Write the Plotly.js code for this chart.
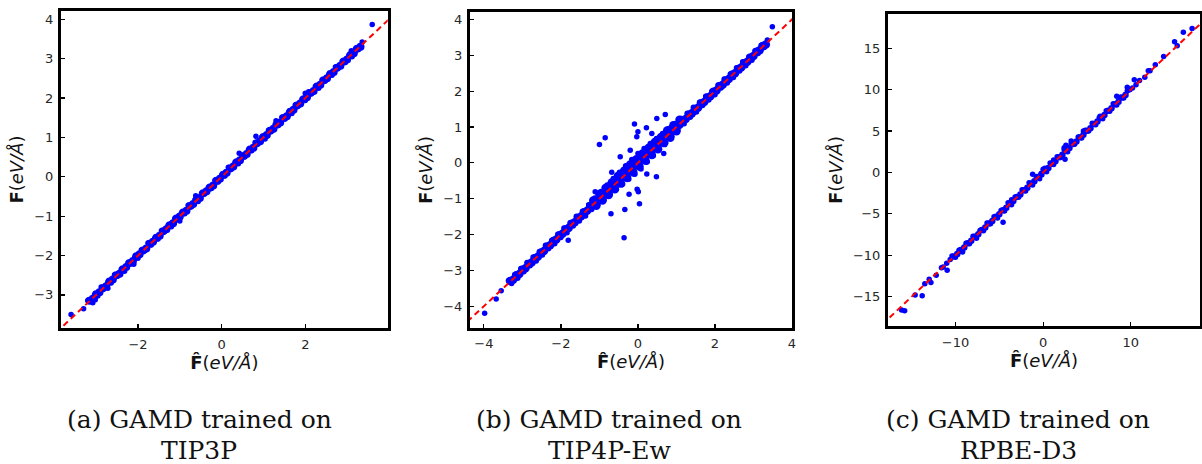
<!DOCTYPE html>
<html>
<head>
<meta charset="utf-8">
<script src="https://cdn.plot.ly/plotly-3.0.1.min.js"></script>
<style>html,body{margin:0;padding:0;background:#fff;overflow:hidden}#chart{width:1202px;height:464px}</style>
</head>
<body>
<div id="chart"></div>
<script>
// ---- Panel (a) TIP3P: predicted vs true force ----
const x1 = [-3.20,-3.12,-3.04,-2.96,-2.88,-2.80,-2.72,-2.64,-2.56,-2.48,-2.40,-2.32,-2.24,-2.16,-2.08,-2.00,-1.92,-1.84,-1.76,-1.68,-1.60,-1.52,-1.44,-1.36,-1.28,-1.20,-1.12,-1.04,-0.96,-0.88,-0.80,-0.72,-0.64,-0.56,-0.48,-0.40,-0.32,-0.24,-0.16,-0.08,0.00,0.08,0.16,0.24,0.32,0.40,0.48,0.56,0.64,0.72,0.80,0.88,0.96,1.04,1.12,1.20,1.28,1.36,1.44,1.52,1.60,1.68,1.76,1.84,1.92,2.00,2.08,2.16,2.24,2.32,2.40,2.48,2.56,2.64,2.72,2.80,2.88,2.96,3.04,3.12,3.20,3.28,3.36,
  3.60,-3.60,-3.30,-3.08,-3.02,-2.72,-2.10,0.42,0.82,-0.62,2.00,3.10,1.30,-1.00,-0.30,0.10,1.70,-1.60,2.60,-2.50];
const y1 = [-3.14,-3.17,-3.00,-3.03,-2.80,-2.83,-2.67,-2.70,-2.49,-2.52,-2.35,-2.40,-2.18,-2.21,-2.05,-2.07,-1.86,-1.88,-1.68,-1.73,-1.56,-1.58,-1.37,-1.39,-1.23,-1.27,-1.06,-1.09,-0.92,-0.94,-0.72,-0.76,-0.59,-0.63,-0.42,-0.43,-0.27,-0.30,-0.09,-0.13,0.04,0.02,0.24,0.20,0.37,0.33,0.54,0.51,0.68,0.66,0.87,0.85,1.01,0.96,1.18,1.16,1.33,1.30,1.51,1.47,1.64,1.61,1.82,1.81,1.97,1.94,2.16,2.12,2.29,2.25,2.46,2.43,2.60,2.58,2.79,2.77,2.93,2.90,3.08,3.05,3.25,3.24,3.42,
  3.87,-3.50,-3.35,-3.20,-3.12,-2.83,-2.22,0.60,1.03,-0.48,2.12,3.20,1.42,-1.12,-0.28,0.12,1.68,-1.62,2.63,-2.52];
const x1core = [-3.16,-3.08,-3.00,-2.92,-2.84,-2.76,-2.68,-2.60,-2.52,-2.44,-2.36,-2.28,-2.20,-2.12,-2.04,-1.96,-1.88,-1.80,-1.72,-1.64,-1.56,-1.48,-1.40,-1.32,-1.24,-1.16,-1.08,-1.00,-0.92,-0.84,-0.76,-0.68,-0.60,-0.52,-0.44,-0.36,-0.28,-0.20,-0.12,-0.04,0.04,0.12,0.20,0.28,0.36,0.44,0.52,0.60,0.68,0.76,0.84,0.92,1.00,1.08,1.16,1.24,1.32,1.40,1.48,1.56,1.64,1.72,1.80,1.88,1.96,2.04,2.12,2.20,2.28,2.36,2.44,2.52,2.60,2.68,2.76,2.84,2.92,3.00,3.08,3.16,3.24,3.32];
const y1core = [-3.15,-3.10,-2.98,-2.93,-2.83,-2.78,-2.66,-2.61,-2.50,-2.46,-2.35,-2.29,-2.19,-2.14,-2.02,-1.97,-1.87,-1.82,-1.70,-1.65,-1.55,-1.50,-1.38,-1.33,-1.23,-1.18,-1.06,-1.01,-0.91,-0.86,-0.74,-0.69,-0.59,-0.54,-0.42,-0.37,-0.27,-0.22,-0.10,-0.05,0.05,0.10,0.21,0.26,0.37,0.42,0.53,0.58,0.69,0.74,0.85,0.90,1.01,1.06,1.17,1.22,1.33,1.38,1.49,1.54,1.65,1.70,1.81,1.86,1.97,2.02,2.13,2.18,2.29,2.34,2.45,2.50,2.61,2.66,2.77,2.82,2.93,2.98,3.09,3.14,3.25,3.30];
const diag1 = [-5, 5];

// ---- Panel (b) TIP4P-Ew ----
const x2 = [-3.36,-3.28,-3.20,-3.12,-3.04,-2.96,-2.88,-2.80,-2.72,-2.64,-2.56,-2.48,-2.40,-2.32,-2.24,-2.16,-2.08,-2.00,-1.92,-1.84,-1.76,-1.68,-1.60,-1.52,-1.44,-1.36,-1.28,-1.20,-1.12,-1.04,-0.96,-0.88,-0.80,-0.72,-0.64,-0.56,-0.48,-0.40,-0.32,-0.24,-0.16,-0.08,0.00,0.08,0.16,0.24,0.32,0.40,0.48,0.56,0.64,0.72,0.80,0.88,0.96,1.04,1.12,1.20,1.28,1.36,1.44,1.52,1.60,1.68,1.76,1.84,1.92,2.00,2.08,2.16,2.24,2.32,2.40,2.48,2.56,2.64,2.72,2.80,2.88,2.96,3.04,3.12,3.20,3.28,3.36,
  -0.60,-0.44,-0.20,0.04,0.20,0.36,0.52,0.68,0.84,-0.76,-0.92,-0.36,-0.12,0.12,0.28,0.44,0.60,1.00,-1.00,-0.52,0.76,-0.28,
  -1.00,-0.85,-0.09,0.00,0.22,0.49,0.71,-0.03,-0.36,-0.70,-0.34,0.04,-0.23,-0.02,0.01,0.48,0.23,-0.68,-1.11,-1.81,-3.98,-3.68,3.49,0.67,0.36,-0.46,-0.20,-0.63,0.41,-3.55];
const y2 = [-3.28,-3.37,-3.13,-3.22,-2.95,-3.04,-2.78,-2.87,-2.63,-2.74,-2.48,-2.57,-2.30,-2.40,-2.17,-2.26,-1.99,-2.08,-1.82,-1.95,-1.67,-1.76,-1.49,-1.62,-1.35,-1.48,-1.17,-1.30,-0.98,-1.17,-0.80,-1.03,-0.62,-0.88,-0.44,-0.74,-0.26,-0.60,-0.08,-0.46,0.09,-0.32,0.26,-0.17,0.40,0.02,0.54,0.20,0.68,0.38,0.82,0.56,0.96,0.74,1.10,0.92,1.24,1.09,1.38,1.27,1.55,1.42,1.69,1.60,1.86,1.75,2.00,1.90,2.17,2.09,2.34,2.23,2.48,2.38,2.65,2.56,2.82,2.71,2.96,2.86,3.13,3.05,3.28,3.22,3.43,
  -0.60,-0.47,-0.18,0.06,0.22,0.33,0.55,0.66,0.86,-0.73,-0.95,-0.30,-0.05,0.10,0.31,0.42,0.63,1.02,-1.00,-0.50,0.78,-0.26,
  0.51,0.70,1.08,0.87,0.98,1.24,1.35,0.73,-2.09,-1.42,-1.30,-1.14,-0.88,-0.74,-0.81,-0.39,-0.31,-0.26,-0.81,-2.16,-4.20,-3.80,3.80,0.26,0.82,0.17,0.35,-0.53,0.45,-3.57];
const x2core = [-3.32,-3.24,-3.16,-3.08,-3.00,-2.92,-2.84,-2.76,-2.68,-2.60,-2.52,-2.44,-2.36,-2.28,-2.20,-2.12,-2.04,-1.96,-1.88,-1.80,-1.72,-1.64,-1.56,-1.48,-1.40,-1.32,-1.24,-1.16,-1.08,-1.00,-0.92,-0.84,-0.76,-0.68,-0.60,-0.52,-0.44,-0.36,-0.28,-0.20,-0.12,-0.04,0.04,0.12,0.20,0.28,0.36,0.44,0.52,0.60,0.68,0.76,0.84,0.92,1.00,1.08,1.16,1.24,1.32,1.40,1.48,1.56,1.64,1.72,1.80,1.88,1.96,2.04,2.12,2.20,2.28,2.36,2.44,2.52,2.60,2.68,2.76,2.84,2.92,3.00,3.08,3.16,3.24,3.32,
  -1.16,-1.00,-0.84,-0.68,-0.52,-0.36,-0.20,-0.04,0.12,0.28,0.44,0.60,0.76,0.92,1.08,-1.08,-0.92,-0.76,-0.60,-0.44,-0.28,-0.12,0.04,0.20,0.36,0.52,0.68,0.84,1.00];
const y2core = [-3.30,-3.26,-3.14,-3.10,-2.98,-2.94,-2.82,-2.78,-2.66,-2.62,-2.50,-2.46,-2.34,-2.30,-2.18,-2.14,-2.02,-1.98,-1.86,-1.82,-1.70,-1.66,-1.54,-1.50,-1.38,-1.34,-1.22,-1.18,-1.06,-1.02,-0.90,-0.86,-0.74,-0.70,-0.58,-0.54,-0.42,-0.38,-0.26,-0.22,-0.10,-0.06,0.06,0.10,0.22,0.26,0.38,0.42,0.54,0.58,0.70,0.74,0.86,0.90,1.02,1.06,1.18,1.22,1.34,1.38,1.50,1.54,1.66,1.70,1.82,1.86,1.98,2.02,2.14,2.18,2.30,2.34,2.46,2.50,2.62,2.66,2.78,2.82,2.94,2.98,3.10,3.14,3.26,3.30,
  -1.05,-0.87,-0.70,-0.55,-0.37,-0.22,-0.05,0.10,0.26,0.42,0.58,0.72,0.90,1.05,1.20,-1.20,-1.05,-0.90,-0.74,-0.58,-0.42,-0.27,-0.10,0.06,0.22,0.38,0.55,0.70,0.88];
const diag2 = [-5, 5];

// ---- Panel (c) RPBE-D3 ----
const x3 = [-10.4,-10.0,-9.6,-9.2,-8.8,-8.4,-8.0,-7.6,-7.2,-6.8,-6.4,-6.0,-5.6,-5.2,-4.8,-4.4,-4.0,-3.6,-3.2,-2.8,-2.4,-2.0,-1.6,-1.2,-0.8,-0.4,0.0,0.4,0.8,1.2,1.6,2.0,2.4,2.8,3.2,3.6,4.0,4.4,4.8,5.2,5.6,6.0,6.4,6.8,7.2,7.6,8.0,8.4,8.8,9.2,9.6,
  -16.15,-15.8,-14.6,-13.8,-13.5,-12.8,-12.2,-11.4,-10.95,-11.0,-11.6,-13.0,-4.57,-1.2,2.5,2.6,2.4,4.6,16.0,15.0,15.3,17.0,13.75,12.8,12.0,12.2,11.6,10.4,10.6,9.6,9.9,8.4,10.2,11.0,-9.2,-3.6,-9.8,-10.6,-0.2,0.2,6.5,3.2,1.2];
const y3 = [-10.1,-10.25,-9.4,-9.5,-8.55,-8.6,-7.7,-7.95,-7.0,-7.05,-6.1,-6.2,-5.35,-5.5,-4.6,-4.65,-3.65,-3.9,-2.95,-3.0,-2.1,-2.25,-1.25,-1.5,-0.5,-0.75,0.4,0.1,1.15,0.95,1.9,1.8,2.75,2.5,3.45,3.4,4.3,4.15,5.1,5.0,5.95,5.75,6.6,6.5,7.45,7.4,8.3,8.15,9.1,9.0,9.85,
  -16.6,-16.7,-14.8,-14.9,-13.45,-13.3,-12.4,-11.4,-11.8,-10.95,-11.5,-12.9,-6.0,-0.2,1.6,3.3,3.0,5.0,16.95,15.8,15.3,17.4,14.0,13.0,12.3,12.3,11.5,11.2,10.6,10.3,10.0,9.2,10.2,11.1,-9.6,-3.3,-9.9,-10.5,-0.1,0.5,6.8,3.8,1.5];
const x3core = [-10.2,-9.8,-9.4,-9.0,-8.6,-8.2,-7.8,-7.4,-7.0,-6.6,-6.2,-5.8,-5.4,-5.0,-4.6,-4.2,-3.8,-3.4,-3.0,-2.6,-2.2,-1.8,-1.4,-1.0,-0.6,-0.2,0.2,0.6,1.0,1.4,1.8,2.2,2.6,3.0,3.4,3.8,4.2,4.6,5.0,5.4,5.8,6.2,6.6,7.0,7.4,7.8,8.2,8.6,9.0,9.4];
const y3core = [-10.15,-9.85,-9.35,-9.05,-8.55,-8.25,-7.75,-7.45,-6.95,-6.65,-6.15,-5.85,-5.35,-5.05,-4.55,-4.25,-3.75,-3.45,-2.95,-2.65,-2.15,-1.85,-1.35,-1.05,-0.55,-0.25,0.25,0.55,1.05,1.35,1.85,2.15,2.65,2.95,3.45,3.75,4.25,4.55,5.05,5.35,5.85,6.15,6.65,6.95,7.45,7.75,8.25,8.55,9.05,9.35];
const diag3 = [-20, 20];

// ---- Text ----
const captionLine1 = ["(a) GAMD trained on", "(b) GAMD trained on", "(c) GAMD trained on"];
const captionLine2 = ["TIP3P", "TIP4P-Ew", "RPBE-D3"];
const yTitle = "<b>F</b>(<i>eV/Å</i>)";
const xTitle = "<b>F̂</b>(<i>eV/Å</i>)";

const tickFont = {family: "DejaVu Sans", size: 13, color: "#262626"};
const titleFont = {family: "DejaVu Sans", size: 18, color: "#111"};

function axis(domain, range, dtick, title, anchor) {
  return {
    domain: domain, range: range, dtick: dtick, tick0: 0, anchor: anchor,
    showgrid: false, zeroline: false,
    showline: true, mirror: true, linewidth: 3, linecolor: "#000",
    ticks: "inside", ticklen: 4, tickwidth: 1.2, tickcolor: "#000",
    tickfont: tickFont, ticklabelstandoff: 2,
    title: {text: title, font: titleFont, standoff: 6}
  };
}

const dashLine = {color: "#ff0000", width: 2, dash: "6px,4px"};

function pts(xs, ys, xa, ya, sz) {
  return {x: xs, y: ys, xaxis: xa, yaxis: ya, mode: "markers", type: "scatter",
          marker: {color: "#0000ff", size: sz}};
}

const traces = [
  pts(x1core, y1core, "x", "y", 8), pts(x1, y1, "x", "y", 5.5),
  {x: diag1, y: diag1, xaxis: "x", yaxis: "y", mode: "lines", type: "scatter", line: dashLine},
  pts(x2core, y2core, "x2", "y2", 8.5), pts(x2, y2, "x2", "y2", 5.5),
  {x: diag2, y: diag2, xaxis: "x2", yaxis: "y2", mode: "lines", type: "scatter", line: dashLine},
  pts(x3core, y3core, "x3", "y3", 6.5), pts(x3, y3, "x3", "y3", 5.5),
  {x: diag3, y: diag3, xaxis: "x3", yaxis: "y3", mode: "lines", type: "scatter", line: dashLine}
];

const capX = [199, 609, 1018];
const annotations = [];
for (let i = 0; i < 3; i++) {
  annotations.push({xref: "paper", yref: "paper", x: capX[i] / 1202, y: 1 - 419 / 464, text: captionLine1[i],
    showarrow: false, xanchor: "center", yanchor: "middle", font: {family: "DejaVu Serif", size: 25, color: "#111"}});
  annotations.push({xref: "paper", yref: "paper", x: capX[i] / 1202, y: 1 - 450 / 464, text: captionLine2[i],
    showarrow: false, xanchor: "center", yanchor: "middle", font: {family: "DejaVu Serif", size: 25, color: "#111"}});
}

const layout = {
  width: 1202, height: 464,
  margin: {l: 0, r: 0, t: 0, b: 0},
  paper_bgcolor: "#fff", plot_bgcolor: "#fff",
  showlegend: false,
  xaxis: axis([61/1202, 387.7/1202], [-3.84, 3.97], 2, xTitle, "y"),
  yaxis: axis([1 - 328/464, 1 - 11/464], [-3.84, 4.21], 1, yTitle, "x"),
  xaxis2: axis([470/1202, 792/1202], [-4.36, 4.0], 2, xTitle, "y2"),
  yaxis2: axis([1 - 327.7/464, 1 - 12.3/464], [-4.6, 4.2], 1, yTitle, "x2"),
  xaxis3: axis([888/1202, 1200/1202], [-17.7, 17.9], 10, xTitle, "y3"),
  yaxis3: axis([1 - 326/464, 1 - 14/464], [-18.54, 19.14], 5, yTitle, "x3"),
  annotations: annotations
};

Plotly.newPlot("chart", traces, layout, {staticPlot: true, displayModeBar: false});
</script>
</body>
</html>
